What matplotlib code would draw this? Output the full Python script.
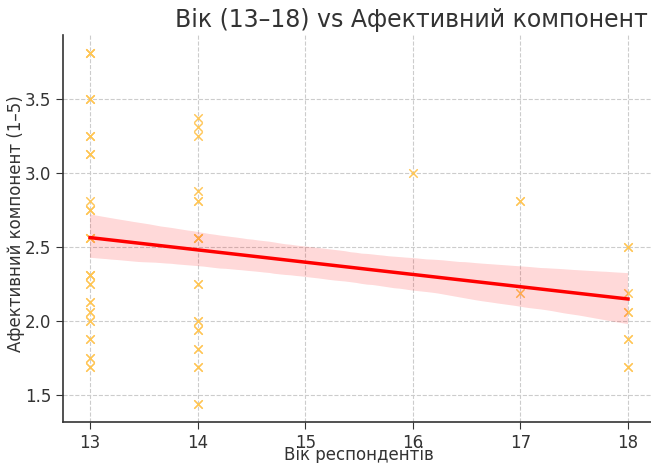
import numpy as np
import matplotlib
matplotlib.use("Agg")
import matplotlib.pyplot as plt
from matplotlib.collections import PolyCollection
import seaborn as sns

# affective component scores (1-5) by respondent age: distinct score and how many gave it
age_13_scores = [3.8125, 3.5, 3.25, 3.125, 2.8125, 2.75, 2.5625, 2.3125, 2.25,
                 2.125, 2.0625, 2.0, 1.875, 1.75, 1.6875]
age_13_counts = [5, 4, 4, 4, 2, 4, 5, 5, 3, 3, 3, 3, 3, 3, 3]
age_14_scores = [3.375, 3.3125, 3.25, 2.875, 2.8125, 2.5625, 2.25, 2.0, 1.9375,
                 1.8125, 1.6875, 1.4375]
age_14_counts = [2, 2, 2, 2, 3, 5, 3, 3, 3, 3, 3, 3]
age_16_scores = [3.0]
age_16_counts = [2]
age_17_scores = [2.8125, 2.1875]
age_17_counts = [3, 2]
age_18_scores = [2.5, 2.1875, 2.0625, 1.875, 1.6875]
age_18_counts = [3, 2, 3, 3, 3]

groups = [(13, age_13_scores, age_13_counts), (14, age_14_scores, age_14_counts),
          (16, age_16_scores, age_16_counts), (17, age_17_scores, age_17_counts),
          (18, age_18_scores, age_18_counts)]
ages = np.concatenate([np.full(sum(c), a, dtype=float) for a, s, c in groups])
scores = np.concatenate([np.repeat(s, c) for a, s, c in groups])

plt.rcParams['font.family'] = ['DejaVu Sans']
text_col = '#333333'

fig = plt.figure(figsize=(6.51, 4.63), dpi=100)
ax = fig.add_axes([0.097, 0.089, 0.909, 0.835])

sns.regplot(x=ages, y=scores, ax=ax, marker='x', seed=3,
            scatter_kws={'color': '#ffc552', 's': 36, 'linewidths': 0.9},
            line_kws={'color': 'red', 'linewidth': 2.5})
for c in ax.collections:
    if isinstance(c, PolyCollection):
        c.set_facecolor('red')
        c.set_alpha(0.15)

ax.set_xticks([13, 14, 15, 16, 17, 18])
ax.set_xlim(12.75, 18.25)
ax.grid(True, linestyle='--', color='#cccccc', linewidth=0.8)
ax.set_axisbelow(True)
for s in ['top', 'right']:
    ax.spines[s].set_visible(False)
for s in ['left', 'bottom']:
    ax.spines[s].set_color(text_col)
    ax.spines[s].set_linewidth(1.2)
ax.tick_params(colors=text_col, labelsize=12, length=5)

ax.set_xlabel('Вік респондентів', fontsize=12, color=text_col)
ax.set_ylabel('Афективний компонент (1–5)', fontsize=12, color=text_col)
ax.xaxis.set_label_coords(0.5, -0.063)
ax.yaxis.set_label_coords(-0.064, 0.513)
fig.text(648 / 651, 1 - 20 / 463, 'Вік (13–18) vs Афективний компонент',
         ha='right', va='center', fontsize=17, color=text_col)

fig.savefig('out.png', dpi=100)
